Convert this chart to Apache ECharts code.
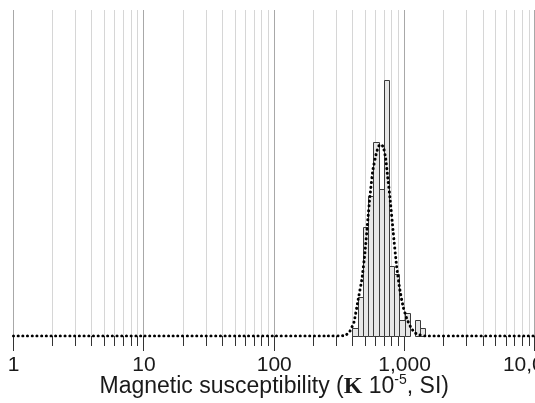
<!DOCTYPE html>
<html>
<head>
<meta charset="utf-8">
<script src="https://cdn.jsdelivr.net/npm/echarts@6/dist/echarts.min.js"></script>
<style>
html,body{margin:0;padding:0;background:#fff;}
#chart{width:535px;height:403px;}
</style>
</head>
<body>
<div id="chart"></div>
<script>
// ---- data ----
// histogram bins (log-spaced), left/right edges and counts
var binLo  = [398, 437, 479, 525, 575, 631, 692, 759, 832, 912, 1000, 1096, 1202, 1318];
var binHi  = [437, 479, 525, 575, 631, 692, 759, 832, 912, 1000, 1096, 1202, 1318, 1445];
var counts = [1, 5, 14, 18, 25, 19, 33, 9, 8, 2, 3, 0, 2, 1];

// fitted (dotted) curve
var curveX = [1, 10, 100, 250, 349, 381, 409, 438, 471, 496, 523, 542, 571, 610, 646, 685, 715, 741, 771, 818, 868, 920, 976, 1036, 1112, 1199, 1310, 1431, 3000, 10000];
var curveY = [0, 0, 0, 0, 0.06, 0.64, 1.8, 4.5, 7.4, 10.7, 15.1, 18.0, 21.4, 23.7, 24.7, 24.4, 22.9, 20.5, 17.9, 13.3, 9.0, 5.9, 3.7, 2.3, 1.16, 0.39, 0.13, 0, 0, 0];

// axis ticks / grid positions and labels
var gridValues = [1,2,3,4,5,6,7,8,9,10,20,30,40,50,60,70,80,90,100,200,300,400,500,600,700,800,900,1000,2000,3000,4000,5000,6000,7000,8000,9000,10000];
var tickValues = [1, 10, 100, 1000, 10000];
var tickLabels = ['1', '10', '100', '1,000', '10,000'];

var chart = echarts.init(document.getElementById('chart'), null, {renderer: 'canvas'});

function isMajor(v) {
  var l = Math.log10(v);
  return Math.abs(l - Math.round(l)) < 1e-9;
}

var option = {
  animation: false,
  backgroundColor: '#fff',
  grid: {left: 13.5, right: 0, top: 10, bottom: 67, containLabel: false, outerBoundsMode: 'none'},
  xAxis: {
    type: 'log',
    logBase: 10,
    min: 1,
    max: 10000,
    axisLine: {show: false},
    axisTick: {show: false},
    splitLine: {show: false},
    axisLabel: {
      margin: 19,
      fontSize: 21,
      fontFamily: 'Liberation Sans',
      color: '#1a1a1a',
      showMaxLabel: true,
      showMinLabel: true,
      hideOverlap: false,
      formatter: function (v) {
        for (var i = 0; i < tickValues.length; i++) {
          if (Math.abs(v - tickValues[i]) < 1e-6 * tickValues[i]) return tickLabels[i];
        }
        return '';
      }
    },
    name: '{t|Magnetic susceptibility (}{k|K}{t| 10}{s|-5}{t|, SI)}',
    nameLocation: 'middle',
    nameGap: 37.5,
    nameMoveOverlap: false,
    nameTextStyle: {
      rich: {
        t: {fontSize: 23, fontFamily: 'Liberation Sans', color: '#1a1a1a', lineHeight: 26},
        k: {fontSize: 24, fontFamily: 'Liberation Serif', fontWeight: 'bold', color: '#1a1a1a', lineHeight: 26},
        s: {fontSize: 14, fontFamily: 'Liberation Sans', color: '#1a1a1a', lineHeight: 19, verticalAlign: 'top'}
      }
    }
  },
  yAxis: {
    type: 'value',
    min: 0,
    max: 42,
    show: false,
    splitLine: {show: false}
  },
  series: [
    {
      type: 'custom',
      name: 'grid',
      z: 1,
      silent: true,
      clip: false,
      data: gridValues.map(function (v) { return [v]; }),
      encode: {x: 0},
      renderItem: function (params, api) {
        var v = api.value(0);
        var cs = params.coordSys;
        var x = Math.floor(api.coord([v, 0])[0]) + 0.5;
        if (x > cs.x + cs.width) x = Math.floor(cs.x + cs.width) - 0.5;
        var major = isMajor(v);
        var base = cs.y + cs.height;
        return {
          type: 'group',
          children: [
            {type: 'line', shape: {x1: x, y1: cs.y, x2: x, y2: base},
             style: {stroke: major ? '#a8a8a8' : '#d6d6d6', lineWidth: 1}},
            {type: 'line', shape: {x1: x, y1: base, x2: x, y2: base + (major ? 15 : 10)},
             style: {stroke: '#333', lineWidth: 1}}
          ]
        };
      }
    },
    {
      type: 'custom',
      name: 'histogram',
      z: 2,
      data: binLo.map(function (lo, i) { return [lo, binHi[i], counts[i]]; }),
      encode: {x: [0, 1], y: 2},
      renderItem: function (params, api) {
        var c = api.value(2);
        if (!c) return null;
        var p1 = api.coord([api.value(0), c]);
        var p2 = api.coord([api.value(1), 0]);
        var x0 = Math.round(p1[0]) + 0.5, x1 = Math.round(p2[0]) + 0.5;
        var y0 = Math.round(p1[1]) + 0.5, y1 = Math.round(p2[1]) + 0.5;
        return {
          type: 'rect',
          shape: {x: x0, y: y0, width: x1 - x0, height: y1 - y0},
          style: {fill: '#e6e6e6', stroke: '#3a3a3a', lineWidth: 1}
        };
      }
    },
    {
      type: 'line',
      name: 'fit',
      z: 3,
      symbol: 'none',
      smooth: 0.15,
      data: curveX.map(function (x, i) { return [x, curveY[i]]; }),
      lineStyle: {color: '#000', width: 3, type: [0.1, 4.6], cap: 'round'}
    }
  ]
};
chart.setOption(option);
</script>
</body>
</html>
